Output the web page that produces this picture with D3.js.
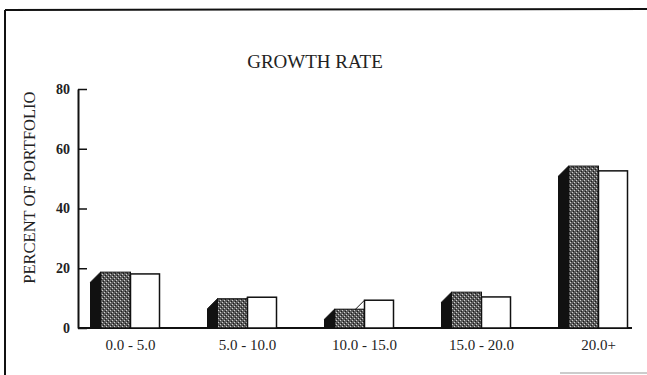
<!DOCTYPE html>
<html><head><meta charset="utf-8">
<script src="https://cdn.jsdelivr.net/npm/d3@7"></script>
<style>html,body{margin:0;padding:0;background:#fff;}svg{display:block;}</style>
</head><body>
<script>
const categories = ["0.0 - 5.0", "5.0 - 10.0", "10.0 - 15.0", "15.0 - 20.0", "20.0+"];
const seriesA = [18.7, 9.8, 6.3, 12.0, 54.2];   // shaded 3-D bars
const seriesB = [18.1, 10.3, 9.3, 10.4, 52.6];  // white bars
const yTicks = [0, 20, 40, 60, 80];
const title = "GROWTH RATE";
const yTitle = "PERCENT OF PORTFOLIO";

const W = 647, H = 375;
const svg = d3.select("body").append("svg").attr("width", W).attr("height", H);

const defs = svg.append("defs");
const pat = defs.append("pattern").attr("id","dither").attr("width",4).attr("height",4).attr("patternUnits","userSpaceOnUse");
pat.append("rect").attr("width",4).attr("height",4).attr("fill","#5c5c5c");
pat.append("rect").attr("x",0).attr("y",0).attr("width",1).attr("height",1).attr("fill","#cfcfcf");
pat.append("rect").attr("x",2).attr("y",2).attr("width",1).attr("height",1).attr("fill","#cfcfcf");
pat.append("rect").attr("x",1).attr("y",3).attr("width",1).attr("height",1).attr("fill","#1a1a1a");
pat.append("rect").attr("x",3).attr("y",1).attr("width",1).attr("height",1).attr("fill","#1a1a1a");

// frame
svg.append("line").attr("x1",5).attr("y1",10).attr("x2",647).attr("y2",9).attr("stroke","#111").attr("stroke-width",2);
svg.append("line").attr("x1",5).attr("y1",10).attr("x2",5).attr("y2",375).attr("stroke","#111").attr("stroke-width",2);
svg.append("line").attr("x1",560).attr("y1",373).attr("x2",647).attr("y2",373).attr("stroke","#999").attr("stroke-width",1);

const axisX = 78, plotRight = 632;
const y = d3.scaleLinear().domain([0, 80]).range([328, 89]);
const x = d3.scaleBand().domain(categories).range([72, 657]).padding(0);

svg.append("text").attr("x", 315).attr("y", 68).attr("text-anchor","middle")
  .attr("font-family","Liberation Serif").attr("font-size",19).attr("fill","#222").text(title);

const yAxis = d3.axisLeft(y).tickValues(yTicks).tickSizeInner(-9).tickSizeOuter(0).tickPadding(8);
const gy = svg.append("g").attr("transform",`translate(${axisX},0)`).call(yAxis);
gy.select(".domain").attr("stroke","#111").attr("stroke-width",2);
gy.selectAll(".tick line").attr("stroke","#111").attr("stroke-width",1.5);
gy.selectAll(".tick text").attr("font-family","Liberation Serif").attr("font-size",14).attr("font-weight","bold").attr("fill","#222");

svg.append("text").attr("transform",`translate(35,${y(47)}) rotate(-90)`).attr("text-anchor","middle")
  .attr("font-family","Liberation Serif").attr("font-size",16.5).attr("fill","#222").text(yTitle);

// baseline
svg.append("line").attr("x1",axisX).attr("x2",plotRight).attr("y1",y(0)).attr("y2",y(0)).attr("stroke","#111").attr("stroke-width",2);

const bw = 30, side = 10;
const g = svg.append("g");
categories.forEach((c, i) => {
  const cx = x(c) + x.bandwidth()/2;
  const ta = y(seriesA[i]), tb = y(seriesB[i]), b0 = y(0);
  // white bar side face (hidden behind shaded bar unless taller)
  g.append("path").attr("d", `M${cx-side},${b0} L${cx-side},${tb+side} L${cx},${tb} L${cx},${b0} Z`)
    .attr("fill","#fff").attr("stroke","#111").attr("stroke-width",1);
  // black side face of shaded bar
  g.append("path").attr("d", `M${cx-bw-side},${b0} L${cx-bw-side},${ta+side} L${cx-bw},${ta} L${cx-bw},${b0} Z`)
    .attr("fill","#111").attr("stroke","#111").attr("stroke-width",1);
  g.append("rect").attr("x",cx-bw).attr("y",ta).attr("width",bw).attr("height",b0-ta)
    .attr("fill","url(#dither)").attr("stroke","#111").attr("stroke-width",1);
  g.append("rect").attr("x",cx).attr("y",tb).attr("width",bw-1).attr("height",b0-tb)
    .attr("fill","#fff").attr("stroke","#111").attr("stroke-width",1.5);
  svg.append("text").attr("x",cx).attr("y",350).attr("text-anchor","middle")
    .attr("font-family","Liberation Serif").attr("font-size",15).attr("fill","#222").text(c);
});
</script>
</body></html>
